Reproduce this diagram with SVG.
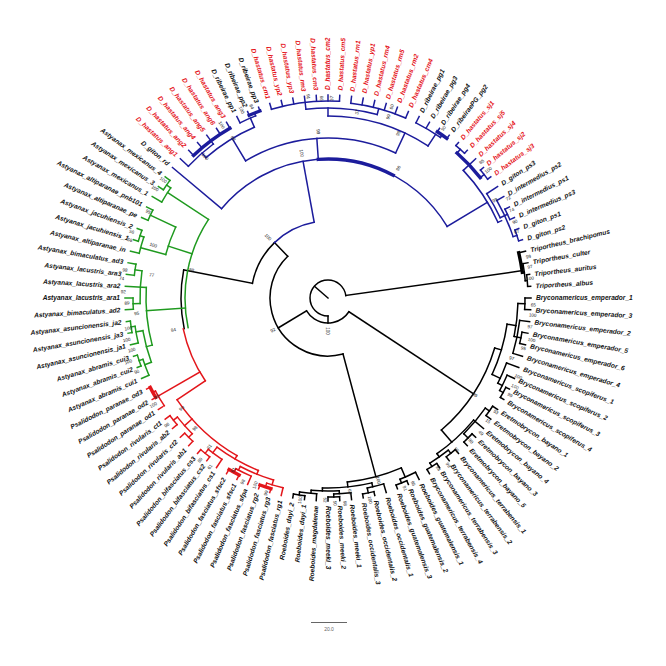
<svg xmlns="http://www.w3.org/2000/svg" width="666" height="666" viewBox="0 0 666 666">
<style>
.k,.b,.g,.r{fill:none;stroke-width:1.5;stroke-linecap:square}
.k{stroke:#000}.b{stroke:#1c1c9c}.g{stroke:#1f9a1f}.r{stroke:#e3161b}
.th{stroke-width:3.4}
text{font-family:"Liberation Sans",Arial,Helvetica,sans-serif}
.t text{font-size:6.6px;font-weight:bold;font-style:italic;fill:#111}
.t .x{fill:#e5141b}
.s text{font-size:4.6px;fill:#222;text-anchor:middle}
</style>
<rect width="666" height="666" fill="#fff"/>
<g id="connectors" transform="translate(328,298)">
<g class="k">
<path transform="rotate(221)" d="M0 0H18"/>
<circle r="18" pathLength="360" stroke-dasharray="262 400" transform="rotate(90)"/>
<path transform="rotate(352)" d="M18 0H196"/>
<circle class="th" r="196" pathLength="360" stroke-dasharray="5.83 400" transform="rotate(346.67)"/>
<path transform="rotate(352.5)" d="M196 0H198"/>
<circle r="198" pathLength="360" stroke-dasharray="5 400" transform="rotate(350)"/>
<path transform="rotate(355)" d="M198 0H200"/>
<circle r="200" pathLength="360" stroke-dasharray="3.34 400" transform="rotate(353.33)"/>
<path transform="rotate(346.67)" d="M196 0H203"/>
<path transform="rotate(350)" d="M198 0H203"/>
<path transform="rotate(353.33)" d="M200 0H203"/>
<path transform="rotate(356.67)" d="M200 0H203"/>
<path transform="rotate(90)" d="M18 0H25"/>
<circle r="25" pathLength="360" stroke-dasharray="115.67 400" transform="rotate(33.33)"/>
<path transform="rotate(33.33)" d="M25 0H174"/>
<path transform="rotate(149)" d="M25 0H58"/>
<circle r="58" pathLength="360" stroke-dasharray="151 400" transform="rotate(75)"/>
<path transform="rotate(75)" d="M58 0H185"/>
<path transform="rotate(226)" d="M58 0H77"/>
<circle r="77" pathLength="360" stroke-dasharray="35 400" transform="rotate(191)"/>
<path transform="rotate(191)" d="M77 0H147"/>
<circle r="147" pathLength="360" stroke-dasharray="23 400" transform="rotate(168)"/>
<circle r="174" pathLength="360" stroke-dasharray="32.66 400" transform="rotate(16.67)"/>
<path transform="rotate(16.67)" d="M174 0H181"/>
<circle r="181" pathLength="360" stroke-dasharray="16.67 400" transform="rotate(8.33)"/>
<path transform="rotate(8.33)" d="M181 0H190"/>
<circle r="190" pathLength="360" stroke-dasharray="10 400" transform="rotate(1.67)"/>
<path transform="rotate(1.67)" d="M190 0H197"/>
<circle r="197" pathLength="360" stroke-dasharray="3.33 400" transform="rotate(0)"/>
<path transform="rotate(0)" d="M197 0H203"/>
<path transform="rotate(3.33)" d="M197 0H203"/>
<path transform="rotate(11.67)" d="M190 0H197"/>
<circle r="193" pathLength="360" stroke-dasharray="10 400" transform="rotate(6.67)"/>
<path transform="rotate(6.67)" d="M193 0H203"/>
<path transform="rotate(16.67)" d="M193 0H203"/>
<circle r="197" pathLength="360" stroke-dasharray="3.33 400" transform="rotate(10)"/>
<path transform="rotate(10)" d="M197 0H203"/>
<path transform="rotate(13.33)" d="M197 0H203"/>
<path transform="rotate(25)" d="M181 0H190"/>
<circle r="190" pathLength="360" stroke-dasharray="6.67 400" transform="rotate(20)"/>
<path transform="rotate(20)" d="M190 0H203"/>
<path transform="rotate(26.67)" d="M190 0H195"/>
<circle r="195" pathLength="360" stroke-dasharray="5 400" transform="rotate(23.33)"/>
<path transform="rotate(23.33)" d="M195 0H203"/>
<path transform="rotate(28.33)" d="M195 0H199"/>
<circle r="199" pathLength="360" stroke-dasharray="3.33 400" transform="rotate(26.67)"/>
<path transform="rotate(26.67)" d="M199 0H203"/>
<path transform="rotate(30)" d="M199 0H203"/>
<path transform="rotate(49.33)" d="M174 0H190"/>
<circle r="190" pathLength="360" stroke-dasharray="15 400" transform="rotate(40)"/>
<path transform="rotate(40)" d="M190 0H203"/>
<circle r="192" pathLength="360" stroke-dasharray="10 400" transform="rotate(35)"/>
<path transform="rotate(35)" d="M192 0H197"/>
<circle r="197" pathLength="360" stroke-dasharray="3.33 400" transform="rotate(33.33)"/>
<path transform="rotate(33.33)" d="M197 0H203"/>
<path transform="rotate(36.67)" d="M197 0H203"/>
<path transform="rotate(45)" d="M192 0H198"/>
<circle r="198" pathLength="360" stroke-dasharray="3.33 400" transform="rotate(43.33)"/>
<path transform="rotate(43.33)" d="M198 0H203"/>
<path transform="rotate(46.67)" d="M198 0H203"/>
<path transform="rotate(55)" d="M190 0H194"/>
<circle r="194" pathLength="360" stroke-dasharray="6.67 400" transform="rotate(51.67)"/>
<path transform="rotate(51.67)" d="M194 0H198"/>
<circle r="198" pathLength="360" stroke-dasharray="3.33 400" transform="rotate(50)"/>
<path transform="rotate(50)" d="M198 0H203"/>
<path transform="rotate(53.33)" d="M198 0H203"/>
<path transform="rotate(58.33)" d="M194 0H198"/>
<circle r="198" pathLength="360" stroke-dasharray="3.33 400" transform="rotate(56.67)"/>
<path transform="rotate(56.67)" d="M198 0H203"/>
<path transform="rotate(60)" d="M198 0H203"/>
<circle r="185" pathLength="360" stroke-dasharray="17.33 400" transform="rotate(66.67)"/>
<path transform="rotate(66.67)" d="M185 0H195"/>
<circle r="195" pathLength="360" stroke-dasharray="5 400" transform="rotate(63.33)"/>
<path transform="rotate(63.33)" d="M195 0H203"/>
<path transform="rotate(68.33)" d="M195 0H199"/>
<circle r="199" pathLength="360" stroke-dasharray="3.33 400" transform="rotate(66.67)"/>
<path transform="rotate(66.67)" d="M199 0H203"/>
<path transform="rotate(70)" d="M199 0H203"/>
<path transform="rotate(84)" d="M185 0H190"/>
<circle r="190" pathLength="360" stroke-dasharray="15 400" transform="rotate(76.67)"/>
<path transform="rotate(76.67)" d="M190 0H194"/>
<circle r="194" pathLength="360" stroke-dasharray="5 400" transform="rotate(73.33)"/>
<path transform="rotate(73.33)" d="M194 0H203"/>
<path transform="rotate(78.33)" d="M194 0H199"/>
<circle r="199" pathLength="360" stroke-dasharray="3.33 400" transform="rotate(76.67)"/>
<path transform="rotate(76.67)" d="M199 0H203"/>
<path transform="rotate(80)" d="M199 0H203"/>
<path transform="rotate(91.67)" d="M190 0H193"/>
<circle r="193" pathLength="360" stroke-dasharray="8.33 400" transform="rotate(86.67)"/>
<path transform="rotate(86.67)" d="M193 0H196"/>
<circle r="196" pathLength="360" stroke-dasharray="5 400" transform="rotate(83.33)"/>
<path transform="rotate(83.33)" d="M196 0H203"/>
<path transform="rotate(88.33)" d="M196 0H199"/>
<circle r="199" pathLength="360" stroke-dasharray="3.33 400" transform="rotate(86.67)"/>
<path transform="rotate(86.67)" d="M199 0H203"/>
<path transform="rotate(90)" d="M199 0H203"/>
<path transform="rotate(95)" d="M193 0H196"/>
<circle r="196" pathLength="360" stroke-dasharray="5 400" transform="rotate(93.33)"/>
<path transform="rotate(93.33)" d="M196 0H203"/>
<path transform="rotate(98.33)" d="M196 0H199"/>
<circle r="199" pathLength="360" stroke-dasharray="3.33 400" transform="rotate(96.67)"/>
<path transform="rotate(96.67)" d="M199 0H203"/>
<path transform="rotate(100)" d="M199 0H203"/>
</g>
<g class="b">
<circle r="77" pathLength="360" stroke-dasharray="33.67 400" transform="rotate(226)"/>
<path transform="rotate(259.67)" d="M77 0H139"/>
<circle r="139" pathLength="360" stroke-dasharray="109 400" transform="rotate(220)"/>
<circle class="th" r="139" pathLength="360" stroke-dasharray="32 400" transform="rotate(266)"/>
<path transform="rotate(220)" d="M139 0H203"/>
<path transform="rotate(266)" d="M139 0H160"/>
<circle r="160" pathLength="360" stroke-dasharray="56 400" transform="rotate(239)"/>
<path transform="rotate(239)" d="M160 0H186"/>
<circle r="186" pathLength="360" stroke-dasharray="17.67 400" transform="rotate(229)"/>
<path transform="rotate(229)" d="M186 0H192"/>
<circle r="192" pathLength="360" stroke-dasharray="10 400" transform="rotate(223.33)"/>
<path transform="rotate(223.33)" d="M192 0H203"/>
<path transform="rotate(233.33)" d="M192 0H203"/>
<circle class="th" r="196" pathLength="360" stroke-dasharray="13.33 400" transform="rotate(226.67)"/>
<path transform="rotate(226.67)" d="M196 0H203"/>
<path transform="rotate(230)" d="M196 0H203"/>
<path transform="rotate(236.67)" d="M196 0H203"/>
<path transform="rotate(240)" d="M196 0H203"/>
<path transform="rotate(246.67)" d="M186 0H196"/>
<circle r="196" pathLength="360" stroke-dasharray="5 400" transform="rotate(243.33)"/>
<path transform="rotate(243.33)" d="M196 0H203"/>
<path transform="rotate(248.33)" d="M196 0H199"/>
<circle class="th" r="199" pathLength="360" stroke-dasharray="3.33 400" transform="rotate(246.67)"/>
<path transform="rotate(246.67)" d="M199 0H203"/>
<path transform="rotate(250)" d="M199 0H203"/>
<path transform="rotate(295)" d="M160 0H182"/>
<circle r="182" pathLength="360" stroke-dasharray="33.33 400" transform="rotate(270)"/>
<path transform="rotate(270)" d="M182 0H190"/>
<circle r="190" pathLength="360" stroke-dasharray="21.67 400" transform="rotate(263.33)"/>
<path transform="rotate(263.33)" d="M190 0H203"/>
<circle r="197" pathLength="360" stroke-dasharray="20 400" transform="rotate(253.33)"/>
<path transform="rotate(253.33)" d="M197 0H203"/>
<path transform="rotate(256.67)" d="M197 0H203"/>
<path transform="rotate(260)" d="M197 0H203"/>
<path transform="rotate(266.67)" d="M197 0H203"/>
<path transform="rotate(270)" d="M197 0H203"/>
<path transform="rotate(273.33)" d="M197 0H203"/>
<path transform="rotate(285)" d="M190 0H196"/>
<circle r="196" pathLength="360" stroke-dasharray="16.66 400" transform="rotate(276.67)"/>
<path transform="rotate(276.67)" d="M196 0H203"/>
<path transform="rotate(280)" d="M196 0H203"/>
<path transform="rotate(283.33)" d="M196 0H203"/>
<path transform="rotate(286.67)" d="M196 0H203"/>
<path transform="rotate(290)" d="M196 0H203"/>
<path transform="rotate(293.33)" d="M196 0H203"/>
<path transform="rotate(303.33)" d="M182 0H196"/>
<circle r="196" pathLength="360" stroke-dasharray="8.33 400" transform="rotate(296.67)"/>
<path transform="rotate(296.67)" d="M196 0H203"/>
<path transform="rotate(300)" d="M196 0H203"/>
<path transform="rotate(305)" d="M196 0H199"/>
<circle class="th" r="199" pathLength="360" stroke-dasharray="3.34 400" transform="rotate(303.33)"/>
<path transform="rotate(303.33)" d="M199 0H203"/>
<path transform="rotate(306.67)" d="M199 0H203"/>
<path transform="rotate(329)" d="M139 0H186"/>
<circle r="186" pathLength="360" stroke-dasharray="19.33 400" transform="rotate(316.67)"/>
<path transform="rotate(316.67)" d="M186 0H203"/>
<circle class="th" r="194" pathLength="360" stroke-dasharray="10 400" transform="rotate(311.67)"/>
<path transform="rotate(311.67)" d="M194 0H199"/>
<circle r="199" pathLength="360" stroke-dasharray="3.33 400" transform="rotate(310)"/>
<path transform="rotate(310)" d="M199 0H203"/>
<path transform="rotate(313.33)" d="M199 0H203"/>
<path transform="rotate(321.67)" d="M194 0H199"/>
<circle r="199" pathLength="360" stroke-dasharray="3.33 400" transform="rotate(320)"/>
<path transform="rotate(320)" d="M199 0H203"/>
<path transform="rotate(323.33)" d="M199 0H203"/>
<path transform="rotate(336)" d="M186 0H190"/>
<circle r="190" pathLength="360" stroke-dasharray="8.33 400" transform="rotate(326.67)"/>
<path transform="rotate(326.67)" d="M190 0H203"/>
<path transform="rotate(335)" d="M190 0H198"/>
<circle r="195" pathLength="360" stroke-dasharray="11.67 400" transform="rotate(330)"/>
<path transform="rotate(330)" d="M195 0H203"/>
<circle r="198" pathLength="360" stroke-dasharray="3.34 400" transform="rotate(333.33)"/>
<path transform="rotate(333.33)" d="M198 0H203"/>
<path transform="rotate(336.67)" d="M198 0H203"/>
<path transform="rotate(341.67)" d="M195 0H199"/>
<circle r="199" pathLength="360" stroke-dasharray="3.33 400" transform="rotate(340)"/>
<path transform="rotate(340)" d="M199 0H203"/>
<path transform="rotate(343.33)" d="M199 0H203"/>
</g>
<g class="g">
<circle r="143" pathLength="360" stroke-dasharray="45.33 400" transform="rotate(168)"/>
<path transform="rotate(213.33)" d="M143 0H192"/>
<circle r="192" pathLength="360" stroke-dasharray="5 400" transform="rotate(210)"/>
<path transform="rotate(210)" d="M192 0H203"/>
<path transform="rotate(215)" d="M192 0H197"/>
<circle r="197" pathLength="360" stroke-dasharray="3.34 400" transform="rotate(213.33)"/>
<path transform="rotate(213.33)" d="M197 0H203"/>
<path transform="rotate(216.67)" d="M197 0H203"/>
<path transform="rotate(198)" d="M143 0H168"/>
<circle r="168" pathLength="360" stroke-dasharray="10 400" transform="rotate(195)"/>
<path transform="rotate(205)" d="M168 0H196"/>
<circle r="196" pathLength="360" stroke-dasharray="3.34 400" transform="rotate(203.33)"/>
<path transform="rotate(203.33)" d="M196 0H203"/>
<path transform="rotate(206.67)" d="M196 0H203"/>
<path transform="rotate(195)" d="M168 0H194"/>
<circle r="194" pathLength="360" stroke-dasharray="5 400" transform="rotate(193.33)"/>
<path transform="rotate(193.33)" d="M194 0H203"/>
<path transform="rotate(198.33)" d="M194 0H198"/>
<circle r="198" pathLength="360" stroke-dasharray="3.33 400" transform="rotate(196.67)"/>
<path transform="rotate(196.67)" d="M198 0H203"/>
<path transform="rotate(200)" d="M198 0H203"/>
<path transform="rotate(176)" d="M143 0H182"/>
<circle r="182" pathLength="360" stroke-dasharray="18.33 400" transform="rotate(165)"/>
<path transform="rotate(183.33)" d="M182 0H203"/>
<circle r="188" pathLength="360" stroke-dasharray="10 400" transform="rotate(178.33)"/>
<path transform="rotate(178.33)" d="M188 0H195"/>
<circle r="195" pathLength="360" stroke-dasharray="3.33 400" transform="rotate(176.67)"/>
<path transform="rotate(176.67)" d="M195 0H203"/>
<path transform="rotate(180)" d="M195 0H203"/>
<path transform="rotate(188.33)" d="M188 0H195"/>
<circle r="195" pathLength="360" stroke-dasharray="3.33 400" transform="rotate(186.67)"/>
<path transform="rotate(186.67)" d="M195 0H203"/>
<path transform="rotate(190)" d="M195 0H203"/>
<path transform="rotate(165)" d="M182 0H188"/>
<circle r="188" pathLength="360" stroke-dasharray="10 400" transform="rotate(160)"/>
<path transform="rotate(160)" d="M188 0H195"/>
<circle r="195" pathLength="360" stroke-dasharray="5 400" transform="rotate(156.67)"/>
<path transform="rotate(156.67)" d="M195 0H203"/>
<path transform="rotate(161.67)" d="M195 0H199"/>
<circle r="199" pathLength="360" stroke-dasharray="3.33 400" transform="rotate(160)"/>
<path transform="rotate(160)" d="M199 0H203"/>
<path transform="rotate(163.33)" d="M199 0H203"/>
<path transform="rotate(170)" d="M188 0H195"/>
<circle r="195" pathLength="360" stroke-dasharray="5 400" transform="rotate(166.67)"/>
<path transform="rotate(166.67)" d="M195 0H203"/>
<path transform="rotate(171.67)" d="M195 0H199"/>
<circle r="199" pathLength="360" stroke-dasharray="3.33 400" transform="rotate(170)"/>
<path transform="rotate(170)" d="M199 0H203"/>
<path transform="rotate(173.33)" d="M199 0H203"/>
</g>
<g class="r">
<circle r="148" pathLength="360" stroke-dasharray="22 400" transform="rotate(146)"/>
<path transform="rotate(150)" d="M148 0H196"/>
<circle r="196" pathLength="360" stroke-dasharray="5 400" transform="rotate(146.67)"/>
<path transform="rotate(146.67)" d="M196 0H203"/>
<path transform="rotate(151.67)" d="M196 0H199"/>
<circle class="th" r="199" pathLength="360" stroke-dasharray="3.33 400" transform="rotate(150)"/>
<path transform="rotate(150)" d="M199 0H203"/>
<path transform="rotate(153.33)" d="M199 0H203"/>
<path transform="rotate(146)" d="M148 0H182"/>
<circle r="182" pathLength="360" stroke-dasharray="26 400" transform="rotate(120)"/>
<path transform="rotate(138.33)" d="M182 0H192"/>
<circle r="192" pathLength="360" stroke-dasharray="6.67 400" transform="rotate(135)"/>
<path transform="rotate(135)" d="M192 0H197"/>
<circle r="197" pathLength="360" stroke-dasharray="3.34 400" transform="rotate(133.33)"/>
<path transform="rotate(133.33)" d="M197 0H203"/>
<path transform="rotate(136.67)" d="M197 0H203"/>
<path transform="rotate(141.67)" d="M192 0H197"/>
<circle r="197" pathLength="360" stroke-dasharray="3.33 400" transform="rotate(140)"/>
<path transform="rotate(140)" d="M197 0H203"/>
<path transform="rotate(143.33)" d="M197 0H203"/>
<path transform="rotate(120)" d="M182 0H186"/>
<circle r="186" pathLength="360" stroke-dasharray="14.67 400" transform="rotate(112)"/>
<path transform="rotate(126.67)" d="M186 0H193"/>
<circle r="193" pathLength="360" stroke-dasharray="5 400" transform="rotate(123.33)"/>
<path transform="rotate(123.33)" d="M193 0H203"/>
<path transform="rotate(128.33)" d="M193 0H198"/>
<circle r="198" pathLength="360" stroke-dasharray="3.33 400" transform="rotate(126.67)"/>
<path transform="rotate(126.67)" d="M198 0H203"/>
<path transform="rotate(130)" d="M198 0H203"/>
<path transform="rotate(112)" d="M186 0H190"/>
<circle r="190" pathLength="360" stroke-dasharray="10.83 400" transform="rotate(106.67)"/>
<path transform="rotate(117.5)" d="M190 0H194"/>
<circle r="194" pathLength="360" stroke-dasharray="5 400" transform="rotate(113.33)"/>
<path transform="rotate(113.33)" d="M194 0H203"/>
<path transform="rotate(118.33)" d="M194 0H198"/>
<circle class="th" r="198" pathLength="360" stroke-dasharray="3.33 400" transform="rotate(116.67)"/>
<path transform="rotate(116.67)" d="M198 0H203"/>
<path transform="rotate(120)" d="M198 0H203"/>
<path transform="rotate(106.67)" d="M190 0H195"/>
<circle r="195" pathLength="360" stroke-dasharray="5 400" transform="rotate(103.33)"/>
<path transform="rotate(103.33)" d="M195 0H203"/>
<path transform="rotate(108.33)" d="M195 0H199"/>
<circle class="th" r="199" pathLength="360" stroke-dasharray="3.33 400" transform="rotate(106.67)"/>
<path transform="rotate(106.67)" d="M199 0H203"/>
<path transform="rotate(110)" d="M199 0H203"/>
</g>
</g>
<g class="t" transform="translate(328,298)">
<g id="n0"><text transform="rotate(0)" x="208" y="2.3">Bryconamericus_emperador_1</text></g>
<g id="n1"><text transform="rotate(3.33)" x="208" y="2.3">Bryconamericus_emperador_3</text></g>
<g id="n2"><text transform="rotate(6.67)" x="208" y="2.3">Bryconamericus_emperador_2</text></g>
<g id="n3"><text transform="rotate(10)" x="208" y="2.3">Bryconamericus_emperador_5</text></g>
<g id="n4"><text transform="rotate(13.33)" x="208" y="2.3">Bryconamericus_emperador_6</text></g>
<g id="n5"><text transform="rotate(16.67)" x="208" y="2.3">Bryconamericus_emperador_4</text></g>
<g id="n6"><text transform="rotate(20)" x="208" y="2.3">Bryconamericus_scopiferus_1</text></g>
<g id="n7"><text transform="rotate(23.33)" x="208" y="2.3">Bryconamericus_scopiferus_2</text></g>
<g id="n8"><text transform="rotate(26.67)" x="208" y="2.3">Bryconamericus_scopiferus_3</text></g>
<g id="n9"><text transform="rotate(30)" x="208" y="2.3">Bryconamericus_scopiferus_4</text></g>
<g id="n10"><text transform="rotate(33.33)" x="208" y="2.3">Eretmobrycon_bayano_1</text></g>
<g id="n11"><text transform="rotate(36.67)" x="208" y="2.3">Eretmobrycon_bayano_2</text></g>
<g id="n12"><text transform="rotate(40)" x="208" y="2.3">Eretmobrycon_bayano_4</text></g>
<g id="n13"><text transform="rotate(43.33)" x="208" y="2.3">Eretmobrycon_bayano_3</text></g>
<g id="n14"><text transform="rotate(46.67)" x="208" y="2.3">Eretmobrycon_bayano_5</text></g>
<g id="n15"><text transform="rotate(50)" x="208" y="2.3">Bryconamericus_terrabensis_1</text></g>
<g id="n16"><text transform="rotate(53.33)" x="208" y="2.3">Bryconamericus_terrabensis_2</text></g>
<g id="n17"><text transform="rotate(56.67)" x="208" y="2.3">Bryconamericus_terrabensis_3</text></g>
<g id="n18"><text transform="rotate(60)" x="208" y="2.3">Bryconamericus_terrabensis_4</text></g>
<g id="n19"><text transform="rotate(63.33)" x="208" y="2.3">Roeboides_guatemalensis_1</text></g>
<g id="n20"><text transform="rotate(66.67)" x="208" y="2.3">Roeboides_guatemalensis_2</text></g>
<g id="n21"><text transform="rotate(70)" x="208" y="2.3">Roeboides_guatemalensis_3</text></g>
<g id="n22"><text transform="rotate(73.33)" x="208" y="2.3">Roeboides_occidentalis_1</text></g>
<g id="n23"><text transform="rotate(76.67)" x="208" y="2.3">Roeboides_occidentalis_2</text></g>
<g id="n24"><text transform="rotate(80)" x="208" y="2.3">Roeboides_occidentalis_3</text></g>
<g id="n25"><text transform="rotate(83.33)" x="208" y="2.3">Roeboides_meeki_1</text></g>
<g id="n26"><text transform="rotate(86.67)" x="208" y="2.3">Roeboides_meeki_2</text></g>
<g id="n27"><text transform="rotate(90)" x="208" y="2.3">Roeboides_meeki_3</text></g>
<g id="n28"><text transform="rotate(-86.67)" x="-208" y="2.3" text-anchor="end">Roeboides_magdalenae</text></g>
<g id="n29"><text transform="rotate(-83.33)" x="-208" y="2.3" text-anchor="end">Roeboides_dayi_1</text></g>
<g id="n30"><text transform="rotate(-80)" x="-208" y="2.3" text-anchor="end">Roeboides_dayi_2</text></g>
<g id="n31"><text transform="rotate(-76.67)" x="-208" y="2.3" text-anchor="end">Psalidodon_fasciatus_rg1</text></g>
<g id="n32"><text transform="rotate(-73.33)" x="-208" y="2.3" text-anchor="end">Psalidodon_fasciatus_rg3</text></g>
<g id="n33"><text transform="rotate(-70)" x="-208" y="2.3" text-anchor="end">Psalidodon_fasciatus_rg2</text></g>
<g id="n34"><text transform="rotate(-66.67)" x="-208" y="2.3" text-anchor="end">Psalidodon_fasciatus_sfpa</text></g>
<g id="n35"><text transform="rotate(-63.33)" x="-208" y="2.3" text-anchor="end">Psalidodon_fasciatus_sfsc1</text></g>
<g id="n36"><text transform="rotate(-60)" x="-208" y="2.3" text-anchor="end">Psalidodon_fasciatus_sfsc2</text></g>
<g id="n37"><text transform="rotate(-56.67)" x="-208" y="2.3" text-anchor="end">Psalidodon_bifasciatus_cs1</text></g>
<g id="n38"><text transform="rotate(-53.33)" x="-208" y="2.3" text-anchor="end">Psalidodon_bifasciatus_cs2</text></g>
<g id="n39"><text transform="rotate(-50)" x="-208" y="2.3" text-anchor="end">Psalidodon_bifasciatus_cs3</text></g>
<g id="n40"><text transform="rotate(-46.67)" x="-208" y="2.3" text-anchor="end">Psalidodon_rivularis_ab1</text></g>
<g id="n41"><text transform="rotate(-43.33)" x="-208" y="2.3" text-anchor="end">Psalidodon_rivularis_ct2</text></g>
<g id="n42"><text transform="rotate(-40)" x="-208" y="2.3" text-anchor="end">Psalidodon_rivularis_ab2</text></g>
<g id="n43"><text transform="rotate(-36.67)" x="-208" y="2.3" text-anchor="end">Psalidodon_rivularis_ct1</text></g>
<g id="n44"><text transform="rotate(-33.33)" x="-208" y="2.3" text-anchor="end">Psalidodon_paranae_od1</text></g>
<g id="n45"><text transform="rotate(-30)" x="-208" y="2.3" text-anchor="end">Psalidodon_paranae_od2</text></g>
<g id="n46"><text transform="rotate(-26.67)" x="-208" y="2.3" text-anchor="end">Psalidodon_paranae_od3</text></g>
<g id="n47"><text transform="rotate(-23.33)" x="-208" y="2.3" text-anchor="end">Astyanax_abramis_cui1</text></g>
<g id="n48"><text transform="rotate(-20)" x="-208" y="2.3" text-anchor="end">Astyanax_abramis_cui2</text></g>
<g id="n49"><text transform="rotate(-16.67)" x="-208" y="2.3" text-anchor="end">Astyanax_abramis_cui3</text></g>
<g id="n50"><text transform="rotate(-13.33)" x="-208" y="2.3" text-anchor="end">Astyanax_asuncionensis_ja1</text></g>
<g id="n51"><text transform="rotate(-10)" x="-208" y="2.3" text-anchor="end">Astyanax_asuncionensis_ja3</text></g>
<g id="n52"><text transform="rotate(-6.67)" x="-208" y="2.3" text-anchor="end">Astyanax_asuncionensis_ja2</text></g>
<g id="n53"><text transform="rotate(-3.33)" x="-208" y="2.3" text-anchor="end">Astyanax_bimaculatus_ad2</text></g>
<g id="n54"><text transform="rotate(0)" x="-208" y="2.3" text-anchor="end">Astyanax_lacustris_ara1</text></g>
<g id="n55"><text transform="rotate(3.33)" x="-208" y="2.3" text-anchor="end">Astyanax_lacustris_ara2</text></g>
<g id="n56"><text transform="rotate(6.67)" x="-208" y="2.3" text-anchor="end">Astyanax_lacustris_ara3</text></g>
<g id="n57"><text transform="rotate(10)" x="-208" y="2.3" text-anchor="end">Astyanax_bimaculatus_ad3</text></g>
<g id="n58"><text transform="rotate(13.33)" x="-208" y="2.3" text-anchor="end">Astyanax_altiparanae_in</text></g>
<g id="n59"><text transform="rotate(16.67)" x="-208" y="2.3" text-anchor="end">Astyanax_jacuhiensis_1</text></g>
<g id="n60"><text transform="rotate(20)" x="-208" y="2.3" text-anchor="end">Astyanax_jacuhiensis_2</text></g>
<g id="n61"><text transform="rotate(23.33)" x="-208" y="2.3" text-anchor="end">Astyanax_altiparanae_pe</text></g>
<g id="n62"><text transform="rotate(26.67)" x="-208" y="2.3" text-anchor="end">Astyanax_altiparanae_pnb101</text></g>
<g id="n63"><text transform="rotate(30)" x="-208" y="2.3" text-anchor="end">Astyanax_mexicanus_1</text></g>
<g id="n64"><text transform="rotate(33.33)" x="-208" y="2.3" text-anchor="end">Astyanax_mexicanus_3</text></g>
<g id="n65"><text transform="rotate(36.67)" x="-208" y="2.3" text-anchor="end">Astyanax_mexicanus_4</text></g>
<g id="n66"><text transform="rotate(40)" x="-208" y="2.3" text-anchor="end">D_giton_rd</text></g>
<g id="n67"><text class="x" transform="rotate(43.33)" x="-208" y="2.3" text-anchor="end">D_hastatus_ang1</text></g>
<g id="n68"><text class="x" transform="rotate(46.67)" x="-208" y="2.3" text-anchor="end">D_hastatus_ang2</text></g>
<g id="n69"><text class="x" transform="rotate(50)" x="-208" y="2.3" text-anchor="end">D_hastatus_ang4</text></g>
<g id="n70"><text class="x" transform="rotate(53.33)" x="-208" y="2.3" text-anchor="end">D_hastatus_ang5</text></g>
<g id="n71"><text class="x" transform="rotate(56.67)" x="-208" y="2.3" text-anchor="end">D_hastatus_ang6</text></g>
<g id="n72"><text class="x" transform="rotate(60)" x="-208" y="2.3" text-anchor="end">D_hastatus_ang3</text></g>
<g id="n73"><text transform="rotate(63.33)" x="-208" y="2.3" text-anchor="end">D_ribeirae_pp1</text></g>
<g id="n74"><text transform="rotate(66.67)" x="-208" y="2.3" text-anchor="end">D_ribeirae_pp2</text></g>
<g id="n75"><text transform="rotate(70)" x="-208" y="2.3" text-anchor="end">D_ribeirae_pp3</text></g>
<g id="n76"><text class="x" transform="rotate(73.33)" x="-208" y="2.3" text-anchor="end">D_hastatus_cm1</text></g>
<g id="n77"><text class="x" transform="rotate(76.67)" x="-208" y="2.3" text-anchor="end">D_hastatus_yp2</text></g>
<g id="n78"><text class="x" transform="rotate(80)" x="-208" y="2.3" text-anchor="end">D_hastatus_yp3</text></g>
<g id="n79"><text class="x" transform="rotate(83.33)" x="-208" y="2.3" text-anchor="end">D_hastatus_rm3</text></g>
<g id="n80"><text class="x" transform="rotate(86.67)" x="-208" y="2.3" text-anchor="end">D_hastatus_cm3</text></g>
<g id="n81"><text class="x" transform="rotate(270)" x="208" y="2.3">D_hastatus_cm2</text></g>
<g id="n82"><text class="x" transform="rotate(273.33)" x="208" y="2.3">D_hastatus_cm5</text></g>
<g id="n83"><text class="x" transform="rotate(276.67)" x="208" y="2.3">D_hastatus_rm1</text></g>
<g id="n84"><text class="x" transform="rotate(280)" x="208" y="2.3">D_hastatus_yp1</text></g>
<g id="n85"><text class="x" transform="rotate(283.33)" x="208" y="2.3">D_hastatus_rm4</text></g>
<g id="n86"><text class="x" transform="rotate(286.67)" x="208" y="2.3">D_hastatus_rm5</text></g>
<g id="n87"><text class="x" transform="rotate(290)" x="208" y="2.3">D_hastatus_rm2</text></g>
<g id="n88"><text class="x" transform="rotate(293.33)" x="208" y="2.3">D_hastatus_cm4</text></g>
<g id="n89"><text transform="rotate(296.67)" x="208" y="2.3">D_ribeirae_pg1</text></g>
<g id="n90"><text transform="rotate(300)" x="208" y="2.3">D_ribeirae_pg3</text></g>
<g id="n91"><text transform="rotate(303.33)" x="208" y="2.3">D_ribeirae_pg4</text></g>
<g id="n92"><text transform="rotate(306.67)" x="208" y="2.3">D_ribeiraePG_pg2</text></g>
<g id="n93"><text class="x" transform="rotate(310)" x="208" y="2.3">D_hastatus_sj1</text></g>
<g id="n94"><text class="x" transform="rotate(313.33)" x="208" y="2.3">D_hastatus_sj5</text></g>
<g id="n95"><text class="x" transform="rotate(316.67)" x="208" y="2.3">D_hastatus_sj4</text></g>
<g id="n96"><text class="x" transform="rotate(320)" x="208" y="2.3">D_hastatus_sj2</text></g>
<g id="n97"><text class="x" transform="rotate(323.33)" x="208" y="2.3">D_hastatus_sj3</text></g>
<g id="n98"><text transform="rotate(326.67)" x="208" y="2.3">D_giton_ps3</text></g>
<g id="n99"><text transform="rotate(330)" x="208" y="2.3">D_intermedius_ps2</text></g>
<g id="n100"><text transform="rotate(333.33)" x="208" y="2.3">D_intermedius_ps1</text></g>
<g id="n101"><text transform="rotate(336.67)" x="208" y="2.3">D_intermedius_ps3</text></g>
<g id="n102"><text transform="rotate(340)" x="208" y="2.3">D_giton_ps1</text></g>
<g id="n103"><text transform="rotate(343.33)" x="208" y="2.3">D_giton_ps2</text></g>
<g id="n104"><text transform="rotate(346.67)" x="208" y="2.3">Triportheus_brachipomus</text></g>
<g id="n105"><text transform="rotate(350)" x="208" y="2.3">Triportheus_culter</text></g>
<g id="n106"><text transform="rotate(353.33)" x="208" y="2.3">Triportheus_auritus</text></g>
<g id="n107"><text transform="rotate(356.67)" x="208" y="2.3">Triportheus_albus</text></g>
</g>
<g class="s" id="support">
<text transform="translate(328,331) rotate(90)" y="1.6">100</text>
<text transform="translate(273,330) rotate(-30)" y="1.6">92</text>
<text transform="translate(268,237) rotate(45)" y="1.6">100</text>
<text transform="translate(301.7,153.3) rotate(80)" y="1.6">100</text>
<text transform="translate(318.3,131.7) rotate(87)" y="1.6">99</text>
<text transform="translate(398.3,168.3) rotate(-61)" y="1.6">96</text>
<text transform="translate(495,200) rotate(-30)" y="1.6">99</text>
<text transform="translate(191.7,270) rotate(12)" y="1.6">88</text>
<text transform="translate(475,395) rotate(33)" y="1.6">99</text>
<text transform="translate(233.3,138.3) rotate(59)" y="1.6">88</text>
<text transform="translate(398.3,133.3) rotate(-67)" y="1.6">99</text>
<text transform="translate(357,112) rotate(-81)" y="1.6">37</text>
<text transform="translate(388.3,116.7) rotate(-72)" y="1.6">99</text>
<text transform="translate(391.7,106.7) rotate(-72)" y="1.6">60</text>
<text transform="translate(308.3,96.7) rotate(84)" y="1.6">91</text>
<text transform="translate(321.7,98.3) rotate(88)" y="1.6">66</text>
<text transform="translate(331.7,98.3) rotate(-89)" y="1.6">37</text>
<text transform="translate(241.7,110) rotate(65)" y="1.6">100</text>
<text transform="translate(251.7,106.7) rotate(68)" y="1.6">84</text>
<text transform="translate(221.7,125) rotate(58)" y="1.6">100</text>
<text transform="translate(205,156.7) rotate(49)" y="1.6">100</text>
<text transform="translate(443.3,128.3) rotate(-56)" y="1.6">90</text>
<text transform="translate(481.7,161.7) rotate(-42)" y="1.6">85</text>
<text transform="translate(488.3,170) rotate(-39)" y="1.6">100</text>
<text transform="translate(508.3,198.3) rotate(-29)" y="1.6">72</text>
<text transform="translate(511.7,210) rotate(-26)" y="1.6">74</text>
<text transform="translate(515,221.7) rotate(-22)" y="1.6">90</text>
<text transform="translate(516.7,231.7) rotate(-19)" y="1.6">67</text>
<text transform="translate(528.3,256.7) rotate(-12)" y="1.6">99</text>
<text transform="translate(530,266.7) rotate(-9)" y="1.6">97</text>
<text transform="translate(530,278.3) rotate(-6)" y="1.6">100</text>
<text transform="translate(533.3,305) rotate(2)" y="1.6">65</text>
<text transform="translate(532.7,315) rotate(5)" y="1.6">100</text>
<text transform="translate(530,326.7) rotate(8)" y="1.6">97</text>
<text transform="translate(531.7,340) rotate(12)" y="1.6">100</text>
<text transform="translate(523.3,348.3) rotate(14)" y="1.6">95</text>
<text transform="translate(511.7,358.3) rotate(18)" y="1.6">97</text>
<text transform="translate(518.3,376.7) rotate(22)" y="1.6">100</text>
<text transform="translate(515,386.7) rotate(25)" y="1.6">100</text>
<text transform="translate(510,395) rotate(28)" y="1.6">99</text>
<text transform="translate(496,412) rotate(34)" y="1.6">53</text>
<text transform="translate(488,421) rotate(38)" y="1.6">15</text>
<text transform="translate(481,433) rotate(41)" y="1.6">49</text>
<text transform="translate(471,441) rotate(45)" y="1.6">98</text>
<text transform="translate(456.7,450) rotate(50)" y="1.6">95</text>
<text transform="translate(448.3,465) rotate(54)" y="1.6">99</text>
<text transform="translate(438.3,468.3) rotate(57)" y="1.6">98</text>
<text transform="translate(413.3,483.3) rotate(65)" y="1.6">95</text>
<text transform="translate(405,488.3) rotate(68)" y="1.6">91</text>
<text transform="translate(378.3,480) rotate(74)" y="1.6">100</text>
<text transform="translate(370,500) rotate(78)" y="1.6">100</text>
<text transform="translate(350,491.7) rotate(83)" y="1.6">66</text>
<text transform="translate(345,503.3) rotate(85)" y="1.6">98</text>
<text transform="translate(335,503.3) rotate(88)" y="1.6">50</text>
<text transform="translate(325,500) rotate(91)" y="1.6">52</text>
<text transform="translate(300,500) rotate(-82)" y="1.6">100</text>
<text transform="translate(255,485) rotate(-69)" y="1.6">100</text>
<text transform="translate(266,493) rotate(-72)" y="1.6">99</text>
<text transform="translate(242.7,481.7) rotate(-65)" y="1.6">98</text>
<text transform="translate(233.3,470) rotate(-61)" y="1.6">91</text>
<text transform="translate(210,466.7) rotate(-55)" y="1.6">61</text>
<text transform="translate(200,460) rotate(-52)" y="1.6">89</text>
<text transform="translate(209.3,446.7) rotate(-51)" y="1.6">91</text>
<text transform="translate(181.7,408.3) rotate(-37)" y="1.6">99</text>
<text transform="translate(153.3,405) rotate(-31)" y="1.6">100</text>
<text transform="translate(166.7,425) rotate(-38)" y="1.6">96</text>
<text transform="translate(195,428.3) rotate(-44)" y="1.6">98</text>
<text transform="translate(156.7,396.7) rotate(-30)" y="1.6">99</text>
<text transform="translate(173.3,330) rotate(-12)" y="1.6">84</text>
<text transform="translate(127,303) rotate(-1)" y="1.6">89</text>
<text transform="translate(136.7,313.3) rotate(-5)" y="1.6">95</text>
<text transform="translate(128.3,328.3) rotate(-9)" y="1.6">100</text>
<text transform="translate(126.7,340) rotate(-12)" y="1.6">100</text>
<text transform="translate(131.7,350) rotate(-15)" y="1.6">100</text>
<text transform="translate(128.3,361.7) rotate(-18)" y="1.6">100</text>
<text transform="translate(136.7,371.7) rotate(-21)" y="1.6">90</text>
<text transform="translate(163.3,180) rotate(36)" y="1.6">100</text>
<text transform="translate(155,188.3) rotate(32)" y="1.6">100</text>
<text transform="translate(148.3,211.7) rotate(26)" y="1.6">95</text>
<text transform="translate(131.7,231.7) rotate(19)" y="1.6">56</text>
<text transform="translate(130,240) rotate(16)" y="1.6">58</text>
<text transform="translate(153.3,245) rotate(17)" y="1.6">100</text>
<text transform="translate(125,270) rotate(8)" y="1.6">98</text>
<text transform="translate(121.7,278.3) rotate(5)" y="1.6">74</text>
<text transform="translate(123.3,291.7) rotate(2)" y="1.6">92</text>
<text transform="translate(151.7,275) rotate(7)" y="1.6">77</text>
</g>
<g id="scalebar">
<line x1="311" y1="622.5" x2="347" y2="622.5" stroke="#666" stroke-width="1"/>
<text x="329" y="631" font-size="5" fill="#666" text-anchor="middle">20.0</text>
</g>
</svg>
